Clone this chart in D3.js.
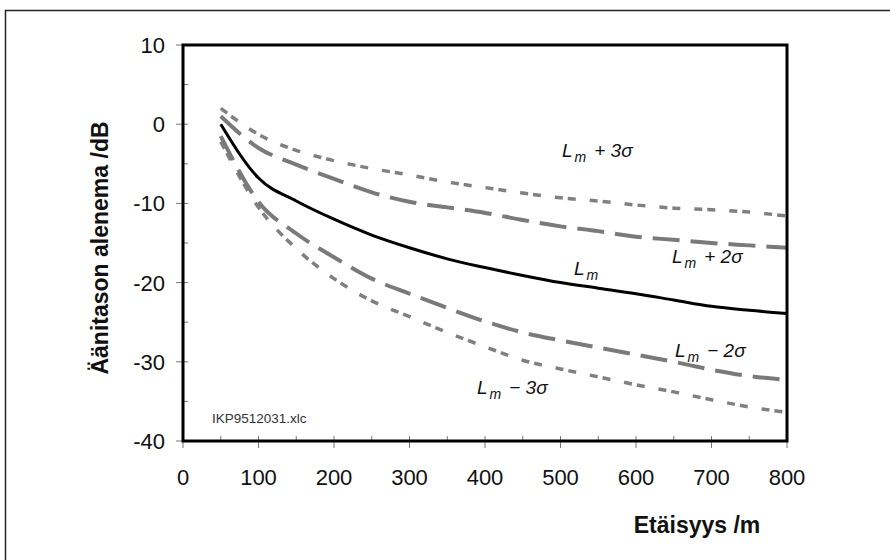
<!DOCTYPE html>
<html>
<head>
<meta charset="utf-8">
<script src="https://cdn.jsdelivr.net/npm/d3@7"></script>
<style>
  body { margin: 0; background: #fff; }
  text { font-family: "Liberation Sans", Arial, sans-serif; }
</style>
</head>
<body>
<script>
// distances (m) and level drop (dB)
var distance = [50, 100, 150, 200, 250, 300, 350, 400, 450, 500, 550, 600, 650, 700, 750, 800];
var lm       = [0, -6.8, -9.7, -12, -14, -15.6, -17, -18.1, -19.1, -20, -20.7, -21.4, -22.2, -23, -23.5, -23.9];
var lmPlus3  = [2, -1.3, -3.3, -4.6, -5.6, -6.4, -7.3, -8, -8.7, -9.3, -9.7, -10.2, -10.6, -10.8, -11.1, -11.6];
var lmPlus2  = [1, -3, -5.1, -6.9, -8.6, -9.8, -10.5, -11.2, -12.1, -12.9, -13.5, -14.2, -14.6, -15, -15.3, -15.6];
var lmMinus2 = [-1.5, -9.8, -13.8, -16.8, -19.5, -21.4, -23.2, -24.9, -26.3, -27.3, -28.2, -29.1, -30, -31, -31.8, -32.3];
var lmMinus3 = [-2.2, -10.5, -15.7, -19.5, -22.3, -24.3, -26.3, -28.1, -29.8, -30.9, -31.9, -32.9, -33.8, -34.8, -35.7, -36.4];

var xTicks = [0, 100, 200, 300, 400, 500, 600, 700, 800];
var yTicks = [10, 0, -10, -20, -30, -40];

var width = 890, height = 560;

var svg = d3.select("body").append("svg")
    .attr("width", width)
    .attr("height", height);

// outer frame
svg.append("rect")
    .attr("x", 5.5).attr("y", 10.5)
    .attr("width", 900).attr("height", 600)
    .style("fill", "none").style("stroke", "#222").style("stroke-width", 1.5);

var x = d3.scaleLinear().domain([0, 800]).range([183, 787]);
var y = d3.scaleLinear().domain([-40, 10]).range([441, 45]);

// ticks: major cross the frame, minor inside
var g = svg.append("g").style("stroke", "#777").style("stroke-width", 1);
d3.range(0, 801, 50).forEach(function (v) {
    var major = v % 100 === 0;
    g.append("line").attr("x1", x(v)).attr("x2", x(v))
        .attr("y1", y(-40) - 5).attr("y2", y(-40) + (major ? 7 : 0));
});
d3.range(-40, 11, 5).forEach(function (v) {
    var major = v % 10 === 0;
    g.append("line").attr("y1", y(v)).attr("y2", y(v))
        .attr("x1", x(0) + 5).attr("x2", x(0) - (major ? 7 : 0));
});

svg.selectAll(".xl").data(xTicks).enter().append("text")
    .attr("x", function (d) { return x(d); })
    .attr("y", 485)
    .attr("text-anchor", "middle")
    .style("font-size", "22px").style("fill", "#111")
    .text(function (d) { return d; });

svg.selectAll(".yl").data(yTicks).enter().append("text")
    .attr("x", 165)
    .attr("y", function (d) { return y(d); })
    .attr("dy", "0.36em")
    .attr("text-anchor", "end")
    .style("font-size", "22px").style("fill", "#111")
    .text(function (d) { return d; });

svg.append("text")
    .attr("transform", "translate(108,248) rotate(-90)")
    .attr("text-anchor", "middle")
    .style("font-size", "23px").style("font-weight", "bold").style("fill", "#111")
    .text("Äänitason alenema /dB");

svg.append("text")
    .attr("x", 697).attr("y", 533)
    .attr("text-anchor", "middle")
    .style("font-size", "23px").style("font-weight", "bold").style("fill", "#111")
    .text("Etäisyys /m");

svg.append("text")
    .attr("x", 212).attr("y", 423)
    .style("font-size", "13.5px").style("fill", "#333")
    .text("IKP9512031.xlc");

var line = d3.line()
    .x(function (d) { return x(d[0]); })
    .y(function (d) { return y(d[1]); })
    .curve(d3.curveMonotoneX);

var series = [
    { values: lmPlus3, color: "#808080", width: 3.5, dash: "8,5,8,14" },
    { values: lmMinus3, color: "#808080", width: 3.5, dash: "8,5,8,14" },
    { values: lmPlus2, color: "#7a7a7a", width: 4, dash: "27,11" },
    { values: lmMinus2, color: "#7a7a7a", width: 4, dash: "27,11" },
    { values: lm, color: "#000", width: 3, dash: null }
];

series.forEach(function (s) {
    svg.append("path")
        .datum(d3.zip(distance, s.values))
        .attr("d", line)
        .style("fill", "none")
        .style("stroke", s.color)
        .style("stroke-width", s.width)
        .style("stroke-dasharray", s.dash);
});

// plot frame
svg.append("rect")
    .attr("x", x(0)).attr("y", y(10))
    .attr("width", x(800) - x(0)).attr("height", y(-40) - y(10))
    .style("fill", "none").style("stroke", "#000").style("stroke-width", 3);

// curve labels
var labels = [
    { x: 562, y: 157, sign: "+", k: "3σ" },
    { x: 672, y: 263, sign: "+", k: "2σ" },
    { x: 574, y: 275, sign: "", k: "" },
    { x: 675, y: 357, sign: "−", k: "2σ" },
    { x: 477, y: 394, sign: "−", k: "3σ" }
];

labels.forEach(function (l) {
    var t = svg.append("text")
        .attr("x", l.x).attr("y", l.y)
        .style("font-size", "19px").style("font-style", "italic").style("fill", "#111");
    t.append("tspan").text("L");
    t.append("tspan").attr("dx", 2).attr("dy", 5).style("font-size", "14px").text("m");
    if (l.sign) {
        t.append("tspan").attr("dx", 8).attr("dy", -5).text(l.sign + " " + l.k);
    }
});
</script>
</body>
</html>
